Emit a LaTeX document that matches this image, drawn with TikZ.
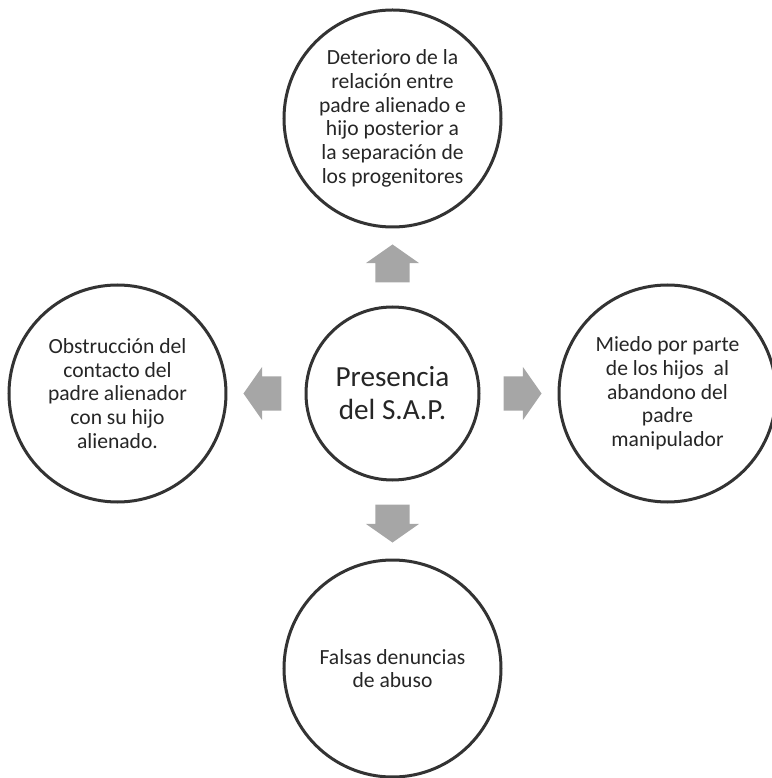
\documentclass[tikz,border=0pt]{standalone}
\usepackage{fontspec}
\setmainfont{Carlito}
\usetikzlibrary{calc,shapes.arrows}
\definecolor{rimgray}{HTML}{333333}
\definecolor{arrowgray}{HTML}{A6A6A6}
\definecolor{textgray}{HTML}{262626}
\tikzstyle{outercircle}=[circle,draw=rimgray,line width=3pt,fill=white,
                         minimum size=217pt,inner sep=0pt,align=center,text=textgray,
                         font=\fontsize{21.6}{23.7}\selectfont]
\tikzstyle{centercircle}=[outercircle,minimum size=173pt,
                          font=\fontsize{29.2}{33}\selectfont]
\tikzstyle{grayarrow}=[single arrow,fill=arrowgray,draw=none,inner xsep=0pt,inner ysep=17pt,
                       minimum height=38pt,
                       single arrow head extend=9.5pt,single arrow tip angle=110]
\newcommand\radialspacing{275}
\newcommand\arrowspacing{124}

\begin{document}
\begin{tikzpicture}[x=1pt,y=1pt]
    \useasboundingbox (-392.5,-384.5) rectangle (378.5,393.5);
    	\node [centercircle] (Presencia) at (0,0) {Presencia\\del S.A.P.};
    	\node [outercircle] (Deterioro) at ($(0,\radialspacing)$) {
    		Deterioro de la\\relación entre\\padre alienado e\\hijo posterior a\\la separación de\\los progenitores
    	};
    	\node [outercircle] (Miedo) at ($(\radialspacing,0)$) {
    		Miedo por parte\\de los hijos\ \ al\\abandono del\\padre\\manipulador
    	};
    	\node [outercircle] (Falsas) at ($(0,-\radialspacing)$) {
    		Falsas denuncias\\de abuso
    	};
    	\node [outercircle] (Obstruccion) at ($(-\radialspacing,0)$) {
    		Obstrucción del\\contacto del\\padre alienador\\con su hijo\\alienado.
    	};
    	% flechas
    	\node [grayarrow,rotate=90] (flecha arriba) at ($(0,\arrowspacing)$) {};
    	\node [grayarrow] (flecha derecha) at ($(\arrowspacing,0)$) {};
    	\node [grayarrow,rotate=270] (flecha abajo) at ($(0,-\arrowspacing)$) {};
    	\node [grayarrow,rotate=180] (flecha izquierda) at ($(-\arrowspacing,0)$) {};
    \end{tikzpicture}
\end{document}
